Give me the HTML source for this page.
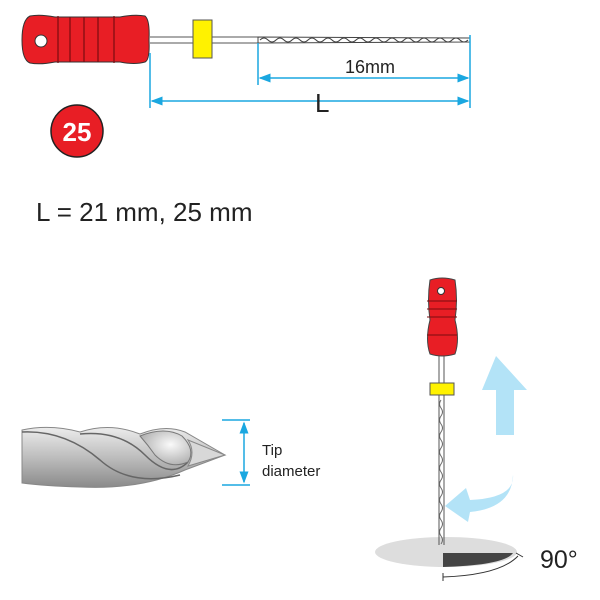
<!DOCTYPE html>
<html><head><style>body{margin:0;background:#fff}svg{display:block}</style></head><body>
<svg width="600" height="600" viewBox="0 0 600 600" xmlns="http://www.w3.org/2000/svg" font-family="Liberation Sans, sans-serif">
<defs>
<linearGradient id="dg" x1="0" y1="0" x2="0" y2="1"><stop offset="0" stop-color="#ececec"/><stop offset="0.5" stop-color="#bdbdbd"/><stop offset="1" stop-color="#8a8a8a"/></linearGradient>
<radialGradient id="lg" cx="0.6" cy="0.4" r="0.7"><stop offset="0" stop-color="#fafafa"/><stop offset="1" stop-color="#a8a8a8"/></radialGradient>
<marker id="ar" markerWidth="8" markerHeight="6" refX="7" refY="3" orient="auto"><path d="M0,0L8,3L0,6z" fill="#1aa7e0"/></marker>
<marker id="al" markerWidth="8" markerHeight="6" refX="1" refY="3" orient="auto"><path d="M8,0L0,3L8,6z" fill="#1aa7e0"/></marker>
</defs>
<!-- top file -->
<line x1="150" y1="37" x2="260" y2="37" stroke="#555" stroke-width="1"/>
<line x1="150" y1="43" x2="260" y2="43" stroke="#555" stroke-width="1"/>
<path d="M258,37 L470,38 L470,42 L258,43z" fill="#fff" stroke="#444" stroke-width="1"/>
<path d="M260,40 q4,-4 8,0 q4,4 8,0 q4,-4 8,0 q4,4 8,0 q4,-4 8,0 q4,4 8,0 q4,-4 8,0 q4,4 8,0 q4,-4 8,0 q4,4 8,0 q4,-4 8,0 q4,4 8,0 q4,-4 8,0 q4,4 8,0 q4,-4 8,0 q4,4 8,0 q4,-4 8,0 q4,4 8,0 q4,-4 8,0 q4,4 8,0 q4,-4 8,0 q4,4 8,0 q4,-4 8,0 q4,4 8,0 q4,-4 8,0 q4,4 8,0" fill="none" stroke="#444" stroke-width="1"/>
<path d="M30,16 Q40,14 55,17 L120,17 Q135,14 145,16 Q150,20 149,40 Q150,60 145,62 Q135,65 120,62 L55,62 Q40,65 30,63 Q22,60 22,40 Q22,20 30,16z" fill="#e81e25" stroke="#333" stroke-width="1"/>
<g stroke="#7a0c10" stroke-width="1.2"><line x1="58" y1="16" x2="58" y2="63"/><line x1="70" y1="17" x2="70" y2="62"/><line x1="84" y1="17" x2="84" y2="62"/><line x1="98" y1="17" x2="98" y2="62"/><line x1="114" y1="16" x2="114" y2="63"/></g>
<circle cx="41" cy="41" r="6" fill="#fff" stroke="#333"/>
<rect x="193" y="20" width="19" height="38" fill="#fff200" stroke="#555"/>
<g stroke="#1aa7e0" stroke-width="1.5" fill="none">
<line x1="150" y1="53" x2="150" y2="108"/>
<line x1="258" y1="43" x2="258" y2="85"/>
<line x1="470" y1="35" x2="470" y2="108"/>
<line x1="260" y1="78" x2="468" y2="78" marker-start="url(#al)" marker-end="url(#ar)"/>
<line x1="152" y1="101" x2="468" y2="101" marker-start="url(#al)" marker-end="url(#ar)"/>
</g>
<text x="345" y="73" font-size="18" fill="#222">16mm</text>
<text x="315" y="112" font-size="26" fill="#222">L</text>
<circle cx="77" cy="131" r="26" fill="#e81e25" stroke="#222" stroke-width="1.5"/>
<text x="77" y="141" font-size="26" font-weight="bold" fill="#fff" text-anchor="middle">25</text>
<text x="36" y="221" font-size="26" fill="#222">L = 21 mm, 25 mm</text>
<!-- drill -->
<path d="M22,430 Q50,424 80,432 Q110,422 140,434 Q165,424 185,432 L225,455 L185,470 Q140,490 80,487 Q45,486 22,483z" fill="url(#dg)" stroke="#888"/>
<path d="M22,432 Q65,430 100,460 Q130,487 180,475" fill="none" stroke="#666" stroke-width="1.5"/>
<path d="M80,434 Q120,430 145,455 Q170,480 188,462" fill="none" stroke="#666" stroke-width="1.5"/>
<path d="M140,436 Q165,426 182,436 Q196,450 188,462 Q170,470 155,455 Q148,445 140,436z" fill="url(#lg)" stroke="#777"/>
<path d="M188,440 L225,455 L188,466 Q196,452 188,440z" fill="#d8d8d8" stroke="#888"/>
<g stroke="#1aa7e0" stroke-width="1.5"><line x1="222" y1="420" x2="250" y2="420"/><line x1="222" y1="485" x2="250" y2="485"/><line x1="244" y1="423" x2="244" y2="482" marker-start="url(#al)" marker-end="url(#ar)"/></g>
<text x="262" y="455" font-size="15" fill="#222">Tip</text>
<text x="262" y="476" font-size="15" fill="#222">diameter</text>
<!-- bottom -->
<ellipse cx="446" cy="552" rx="71" ry="15" fill="#ddd"/>
<path d="M443,553 L513,553 Q505,565 443,567z" fill="#444"/>
<path d="M443,577 Q500,575 518,556" fill="none" stroke="#333"/>
<line x1="443" y1="573" x2="443" y2="581" stroke="#333"/>
<line x1="516" y1="553" x2="523" y2="557" stroke="#333"/>
<text x="540" y="568" font-size="25" fill="#222">90°</text>
<line x1="439" y1="355" x2="439" y2="545" stroke="#555"/>
<line x1="444" y1="355" x2="444" y2="545" stroke="#555"/>
<path d="M441,400 q-3,4 0,8 q3,4 0,8 q-3,4 0,8 q3,4 0,8 q-3,4 0,8 q3,4 0,8 q-3,4 0,8 q3,4 0,8 q-3,4 0,8 q3,4 0,8 q-3,4 0,8 q3,4 0,8 q-3,4 0,8 q3,4 0,8 q-3,4 0,8 q3,4 0,8 q-3,4 0,8 q3,4 0,8" fill="none" stroke="#666"/>
<path d="M430,280 Q442,276 455,280 Q458,300 455,320 Q460,340 455,354 Q442,358 430,354 Q425,340 430,320 Q427,300 430,280z" fill="#e81e25" stroke="#444"/>
<g stroke="#7a0c10"><line x1="427" y1="301" x2="457" y2="301"/><line x1="427" y1="309" x2="457" y2="309"/><line x1="427" y1="317" x2="457" y2="317"/><line x1="427" y1="335" x2="457" y2="335"/></g>
<circle cx="441" cy="291" r="3.5" fill="#fff" stroke="#333"/>
<rect x="430" y="383" width="24" height="12" fill="#fff200" stroke="#555"/>
<path d="M496,356 L527,390 L514,390 L514,435 L496,435 L496,390 L482,390z" fill="#b3e3f7"/>
<path d="M513,475 Q515,498 470,500 L466,488 L445,506 L468,522 L470,512 Q512,508 513,475z" fill="#b3e3f7"/>
</svg>
</body></html>
